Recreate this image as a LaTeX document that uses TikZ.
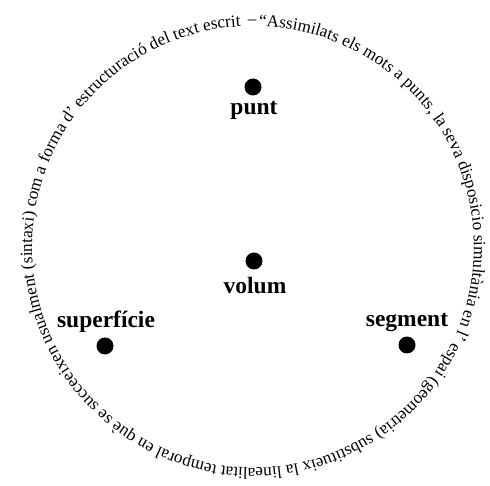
\documentclass[tikz,border=0pt]{standalone}
\usepackage{fontspec}
\setmainfont{Liberation Serif}
\usetikzlibrary{decorations.text}
\begin{document}
\begin{tikzpicture}[x=1pt,y=1pt,
  dot/.style={circle,fill=black,inner sep=0pt,minimum size=17pt},
  lbl/.style={font=\fontsize{23.5}{24}\selectfont\bfseries,anchor=base,inner sep=0pt}]
\useasboundingbox (0,0) rectangle (490,485);
\coordinate (c) at (253,238);
\coordinate (start) at (258.79,458.92);
\path[decorate,decoration={text along path,
  text align={fit to path stretching spaces},
  text={|\fontsize{17.2}{18}\selectfont|“Assimilats els mots a punts, la seva disposicio simultània en l' espai (geometria) substitueix la linealitat temporal en què se succeeixen usualment (sintaxi) com a forma d' estructuració del text escrit”|\color{white}|.}}]
  (start) arc[start angle=88.5, end angle=-267.6, radius=221];
\node[font=\fontsize{17.2}{18}\selectfont,inner sep=0pt,rotate=0.2] (dash) at (252.2,462.5) {–};
\node[dot] (puntdot) at (253,398) {};
\node[lbl] (punt) at (254,370) {punt};
\node[dot] (volumdot) at (254,224) {};
\node[lbl] (volum) at (255,191) {volum};
\node[lbl] (superficie) at (106,157) {superfície};
\node[dot] (superficiedot) at (105,139) {};
\node[lbl] (segment) at (407,158) {segment};
\node[dot] (segmentdot) at (407,140) {};
\end{tikzpicture}
\end{document}
